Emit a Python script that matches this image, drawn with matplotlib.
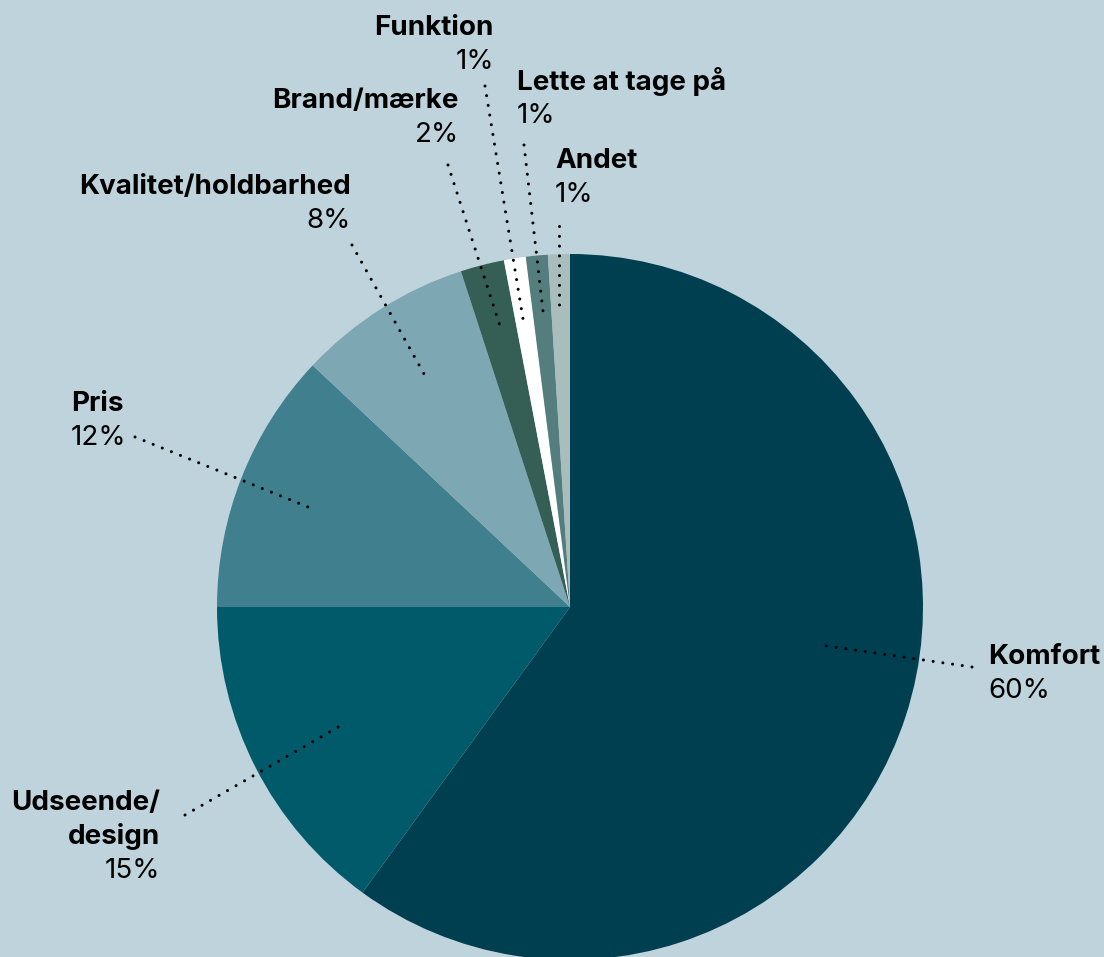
import numpy as np
import matplotlib.pyplot as plt

plt.rcParams['font.family'] = ['Inter', 'DejaVu Sans']

# share of answers, clockwise from 12 o'clock
labels = ['Komfort', 'Udseende/\ndesign', 'Pris', 'Kvalitet/holdbarhed',
          'Brand/mærke', 'Funktion', 'Lette at tage på', 'Andet']
values = [60, 15, 12, 8, 2, 1, 1, 1]
colors = ['#003f50', '#005a6a', '#3f7f8e', '#7ea7b4',
          '#355f55', '#ffffff', '#547e7e', '#a9bdbc']
bg = '#bfd3dc'

W, H = 1104, 957
fig = plt.figure(figsize=(W / 100, H / 100), dpi=100, facecolor=bg)
ax = fig.add_axes([0, 0, 1, 1])
ax.set_facecolor(bg)

cx, cy, r = 570, H - 607, 353
ax.pie(values, colors=colors, startangle=90, counterclock=False,
       center=(cx, cy), radius=r, wedgeprops=dict(linewidth=0))

# label anchors (text x, y of the first bold line, alignment) and leader ends
label_pos = [
    (988, 657, 'left'),
    (160, 803, 'right'),
    (71, 404, 'left'),
    (351, 187, 'right'),
    (459, 101, 'right'),
    (494, 28, 'right'),
    (517, 82, 'left'),
    (555, 161, 'left'),
]
leaders = [
    ((972, 667), (820, 645)),
    ((185, 815), (340, 726)),
    ((135, 437), (313, 509)),
    ((352, 245), (428, 381)),
    ((448, 165), (500, 326)),
    ((485, 86), (523, 319)),
    ((524, 145), (543, 311)),
    ((559, 226), (559, 309)),
]
step = 34

for lab, v, (x, y, ha), (p0, p1) in zip(labels, values, label_pos, leaders):
    lines = lab.split('\n')
    for i, line in enumerate(lines):
        ax.text(x, H - (y + i * step), line, ha=ha, va='center',
                fontsize=20, fontweight='bold', color='#000000')
    py = y + step * len(lines)
    ax.text(x, H - py, f'{v}%', ha=ha, va='center', fontsize=20,
            color='#000000')
    ax.plot([p0[0], p1[0]], [H - p0[1], H - p1[1]], color='#000000',
            linewidth=2.2, linestyle=(0, (0.01, 3.2)), dash_capstyle='round')

ax.set_xlim(0, W)
ax.set_ylim(0, H)
ax.set_aspect('auto')
ax.axis('off')

fig.savefig('out.png', dpi=100, facecolor=bg)
